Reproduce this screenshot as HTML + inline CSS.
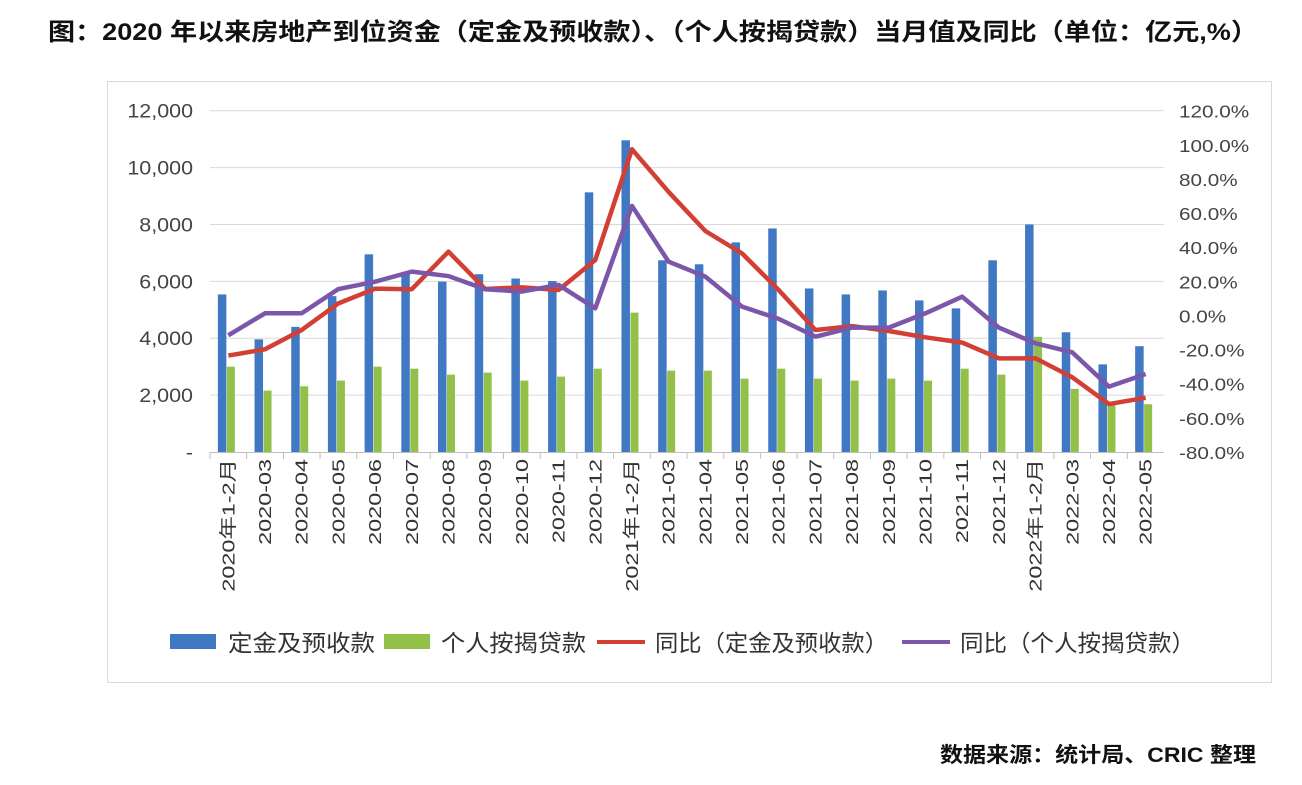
<!DOCTYPE html>
<html><head><meta charset="utf-8">
<style>
body{margin:0;background:#fff;width:1302px;height:780px;overflow:hidden;font-family:"Liberation Sans","Noto Sans CJK SC",sans-serif;}
svg text{font-family:"Liberation Sans","Noto Sans CJK SC",sans-serif;}
</style></head>
<body>
<svg id="chart" width="1302" height="780" xmlns="http://www.w3.org/2000/svg">
<text x="48" y="40" font-size="24" font-weight="bold" fill="#111" textLength="1210" lengthAdjust="spacingAndGlyphs">图：2020 年以来房地产到位资金（定金及预收款）、（个人按揭贷款）当月值及同比（单位：亿元,%）</text>
<rect x="107.5" y="81.5" width="1164" height="601" fill="none" stroke="#d9d9d9"/>
<g id="grid"></g><g id="bars"></g><g id="lines"></g><g id="axes"></g>
<g font-size="23" fill="#333">
<rect x="170" y="634" width="46" height="15" fill="#4178c4"/>
<text x="228" y="651" fill="#333" textLength="147" lengthAdjust="spacingAndGlyphs">定金及预收款</text>
<rect x="384" y="634" width="46" height="15" fill="#93c048"/>
<text x="441" y="651" fill="#333" textLength="145" lengthAdjust="spacingAndGlyphs">个人按揭贷款</text>
<line x1="597" y1="642" x2="645" y2="642" stroke="#d23f35" stroke-width="4"/>
<text x="655" y="651" fill="#333" textLength="233" lengthAdjust="spacingAndGlyphs">同比（定金及预收款）</text>
<line x1="902" y1="642" x2="950" y2="642" stroke="#7c56a8" stroke-width="4"/>
<text x="960" y="651" fill="#333" textLength="235" lengthAdjust="spacingAndGlyphs">同比（个人按揭贷款）</text>
</g>
<text x="940" y="762" font-size="21" font-weight="bold" fill="#111" textLength="316" lengthAdjust="spacingAndGlyphs">数据来源：统计局、CRIC 整理</text>
</svg>
<script>
const categories=["2020年1-2月","2020-03","2020-04","2020-05","2020-06","2020-07","2020-08","2020-09","2020-10","2020-11","2020-12","2021年1-2月","2021-03","2021-04","2021-05","2021-06","2021-07","2021-08","2021-09","2021-10","2021-11","2021-12","2022年1-2月","2022-03","2022-04","2022-05"];
const deposits=[5540,3960,4400,5480,6950,6280,5990,6250,6100,6010,9130,10960,6740,6600,7370,7860,5750,5540,5680,5330,5050,6740,8000,4210,3080,3720];
const mortgage=[3000,2160,2310,2510,3000,2930,2720,2790,2510,2650,2930,4900,2860,2860,2580,2930,2580,2510,2580,2510,2930,2720,4050,2220,1700,1680];
const depositsYoy=[-23.5,-19.8,-8.5,7.1,15.7,15.4,37.4,15.5,16.5,14.9,32.5,97.4,72.4,49.5,36.4,14.9,-8.5,-6.2,-9.1,-12.8,-15.9,-25.1,-25.1,-36.2,-51.9,-48.2];
const mortgageYoy=[-11.6,1.3,1.3,15.5,19.8,25.7,23.1,15.4,14,17.9,4.2,64.2,31.5,22.8,5.2,-2.0,-12.4,-7.1,-7.1,1.3,11.0,-7.1,-16.3,-21.6,-41.7,-34.3];
const leftTicks=[0,2000,4000,6000,8000,10000,12000];
const leftTickLabels=["-","2,000","4,000","6,000","8,000","10,000","12,000"];
const rightTicks=[-80,-60,-40,-20,0,20,40,60,80,100,120];

const NS="http://www.w3.org/2000/svg";
const X0=210,X1=1164,Y0=452,YT=110.7;
const step=(X1-X0)/categories.length;
const xc=i=>X0+step*(i+0.5);
const yL=v=>Y0-(v/12000)*(Y0-YT);
const yR=v=>Y0-((v+80)/200)*(Y0-YT);
function mk(tag,attrs,parent){const e=document.createElementNS(NS,tag);for(const k in attrs)e.setAttribute(k,attrs[k]);parent.appendChild(e);return e;}
const grid=document.getElementById('grid'),bars=document.getElementById('bars'),lines=document.getElementById('lines'),axes=document.getElementById('axes');
leftTicks.forEach((t,i)=>{
  if(t>0){const g=mk('line',{x1:X0,x2:X1,y1:yL(t),y2:yL(t),stroke:'#d9d9d9','stroke-width':1},grid);
  
  }
  const tx=mk('text',{x:0,y:0,'text-anchor':'end','font-size':19,fill:'#444',transform:`translate(193,${yL(t)+7}) scale(1.13,1)`},axes);
  tx.textContent=leftTickLabels[i];
  
  
});
rightTicks.forEach(t=>{
  const tx=mk('text',{x:0,y:0,'font-size':18,fill:'#444',transform:`translate(1179,${yR(t)+7}) scale(1.15,1)`},axes);
  tx.textContent=t.toFixed(1)+'%';
  
  
});
const ax=mk('line',{x1:X0,x2:X1,y1:Y0+0.5,y2:Y0+0.5,stroke:'#bfbfbf'},axes);


categories.forEach((c,i)=>{
  const tk=mk('line',{x1:X0+step*i,x2:X0+step*i,y1:Y0,y2:Y0+7,stroke:'#bfbfbf'},axes);
  
  
  const b=mk('rect',{x:xc(i)-10.5,y:yL(deposits[i]),width:8.5,height:Y0-yL(deposits[i]),fill:'#4178c4'},bars);
  
  
  const g=mk('rect',{x:xc(i)-1.5,y:yL(mortgage[i]),width:8,height:Y0-yL(mortgage[i]),fill:'#93c048'},bars);
  
  
  const tx=mk('text',{x:0,y:0,'text-anchor':'end','font-size':18,fill:'#333',transform:`translate(${xc(i)+6},${Y0+7}) rotate(-90) scale(1.3,1)`},axes);
  tx.textContent=c;
  
  
});
const p1=mk('polyline',{points:depositsYoy.map((v,i)=>xc(i)+','+yR(v)).join(' '),fill:'none',stroke:'#d23f35','stroke-width':4.5,'stroke-linejoin':'round'},lines);


const p2=mk('polyline',{points:mortgageYoy.map((v,i)=>xc(i)+','+yR(v)).join(' '),fill:'none',stroke:'#7c56a8','stroke-width':4.5,'stroke-linejoin':'round'},lines);


</script>
</body></html>
